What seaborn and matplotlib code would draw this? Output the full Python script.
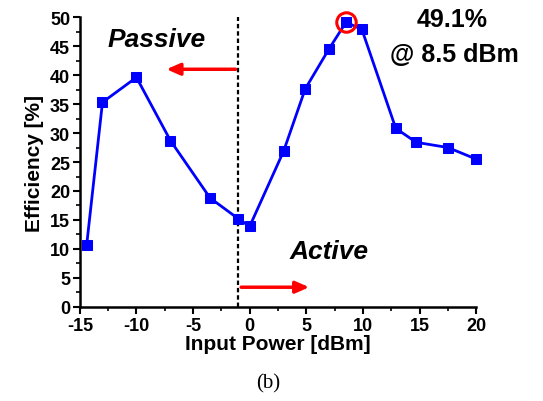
import numpy as np
import pandas as pd
import matplotlib
matplotlib.use("Agg")
import matplotlib.pyplot as plt
from matplotlib.ticker import MultipleLocator
import seaborn as sns

# ocitane vrednosti sa slike
input_power = [-14.4, -13.0, -10.0, -7.0, -3.5, -1.0, 0.0, 3.0, 4.9, 7.0, 8.5, 9.9, 12.9, 14.7, 17.5, 20.0]
efficiency = [10.6, 35.3, 39.6, 28.7, 18.8, 15.2, 13.9, 26.9, 37.6, 44.5, 49.1, 47.9, 30.8, 28.4, 27.5, 25.5]
peak_power = 8.5
peak_eff = 49.1
boundary = -1.0

data = pd.DataFrame({"power": input_power, "eff": efficiency})

sns.set_style("ticks")
plt.rcParams["font.family"] = ["Liberation Sans", "DejaVu Sans"]
plt.rcParams["font.weight"] = "bold"
plt.rcParams["axes.unicode_minus"] = False
for k in ["text.color", "axes.labelcolor", "xtick.color", "ytick.color", "axes.edgecolor"]:
    plt.rcParams[k] = "black"

fig = plt.figure(figsize=(5.43, 4.02), dpi=100)
ax = fig.add_axes([0.147, 0.234, 0.730, 0.721])

sns.lineplot(data=data, x="power", y="eff", ax=ax, color="#0000ff", lw=2,
             marker="s", markersize=7, markeredgecolor="#0000ff", clip_on=False, zorder=3)

# granica pasivno / aktivno
ax.axvline(boundary, color="black", ls=(0, (2, 1.3)), lw=1.6)
ax.annotate("", xy=(-7.6, 41.0), xytext=(boundary, 41.0),
            arrowprops=dict(arrowstyle="-|>,head_length=0.8,head_width=0.35", color="red", lw=2.5))
ax.annotate("", xy=(5.5, 3.4), xytext=(boundary, 3.4),
            arrowprops=dict(arrowstyle="-|>,head_length=0.8,head_width=0.35", color="red", lw=2.5))
ax.text(-8.2, 46.2, "Passive", style="italic", fontsize=19, ha="center", va="center")
ax.text(7.0, 9.6, "Active", style="italic", fontsize=19, ha="center", va="center")

# maksimum
ax.plot(peak_power, peak_eff, marker="o", markersize=14, mfc="none", mec="red", mew=2.2,
        clip_on=False, zorder=4)
ax.text(17.9, 49.7, "49.1%", fontsize=18, ha="center", va="center")
ax.text(18.1, 43.6, "@ 8.5 dBm", fontsize=18, ha="center", va="center")

ax.set_xlim(-15, 20)
ax.set_ylim(0, 50)
ax.xaxis.set_major_locator(MultipleLocator(5))
ax.xaxis.set_minor_locator(MultipleLocator(2.5))
ax.yaxis.set_major_locator(MultipleLocator(5))
ax.yaxis.set_minor_locator(MultipleLocator(2.5))
ax.tick_params(which="major", direction="out", length=5, width=1.5, labelsize=13, pad=2)
ax.tick_params(which="minor", direction="out", length=3, width=1.2)
for s in ["left", "bottom"]:
    ax.spines[s].set_linewidth(1.8)
sns.despine(ax=ax)

ax.set_xlabel("Input Power [dBm]", fontsize=15, fontweight="bold", labelpad=0)
ax.set_ylabel("Efficiency [%]", fontsize=15, fontweight="bold", labelpad=4)

fig.text(0.494, 0.045, "(b)", family="Liberation Serif", fontweight="normal", fontsize=15,
         ha="center", va="center")

fig.savefig("out.png", dpi=100)
